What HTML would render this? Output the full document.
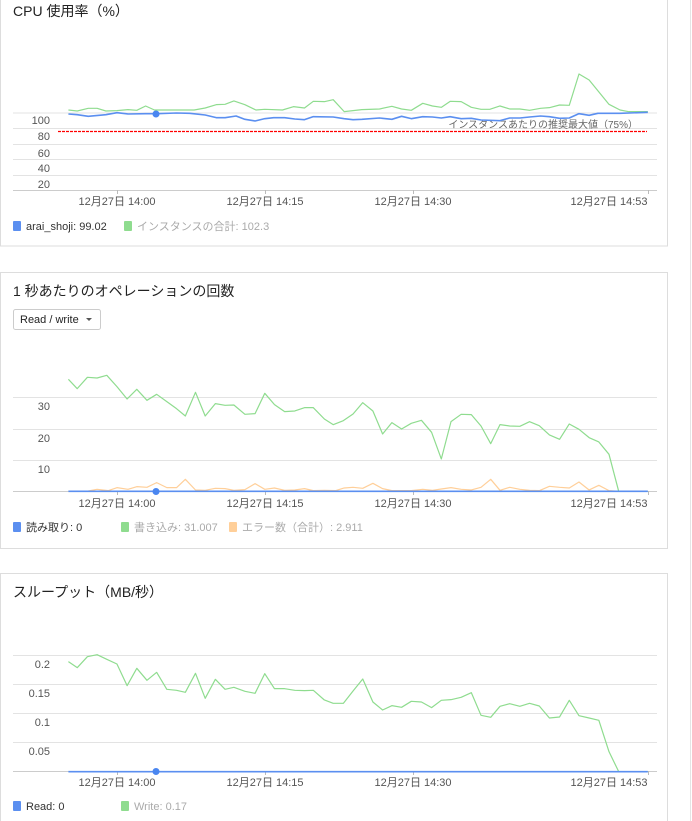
<!DOCTYPE html>
<html><head><meta charset="utf-8"><style>
html,body{margin:0;padding:0;background:#fff;width:692px;height:821px;overflow:hidden}
svg{display:block}
text{font-family:"Liberation Sans","Noto Sans CJK JP",sans-serif}
.l{vector-effect:non-scaling-stroke;fill:none;stroke-linejoin:round}
</style></head><body>
<svg width="692" height="821" viewBox="0 0 692 821" xmlns="http://www.w3.org/2000/svg">
<rect x="0" y="0" width="692" height="821" fill="#fff"/>
<line x1="690.5" y1="0" x2="690.5" y2="821" stroke="#e4e4e4"/>
<!-- cards -->
<rect x="0.5" y="-2" width="667" height="248" fill="#fff" stroke="#ddd"/>
<rect x="0.5" y="272.5" width="667" height="276" fill="#fff" stroke="#ddd"/>
<rect x="0.5" y="573.5" width="667" height="250" fill="#fff" stroke="#ddd"/>

<!-- CARD 1 -->
<text x="13" y="16" font-size="14" fill="#222">CPU 使用率（%）</text>
<g stroke="#e3e3e3">
<line x1="13" y1="113" x2="657" y2="113"/><line x1="13" y1="128.5" x2="657" y2="128.5"/>
<line x1="13" y1="144.5" x2="657" y2="144.5"/><line x1="13" y1="159.5" x2="657" y2="159.5"/>
<line x1="13" y1="175.5" x2="657" y2="175.5"/>
</g>
<line x1="13" y1="190.5" x2="657" y2="190.5" stroke="#ccc"/>
<g stroke="#bbb"><line x1="117.5" y1="190" x2="117.5" y2="194"/><line x1="265.5" y1="190" x2="265.5" y2="194"/><line x1="413.5" y1="190" x2="413.5" y2="194"/><line x1="648.5" y1="190" x2="648.5" y2="194"/></g>
<g font-size="11" fill="#555" text-anchor="end">
<text x="50" y="124">100</text><text x="50" y="140">80</text><text x="50" y="157">60</text><text x="50" y="172">40</text><text x="50" y="188">20</text>
</g>
<line x1="58" y1="131.5" x2="647" y2="131.5" stroke="#ff0000" stroke-dasharray="3,1" stroke-width="1.3"/>
<text x="638" y="128" font-size="10" fill="#666" text-anchor="end">インスタンスあたりの推奨最大値（75%）</text>
<g transform="scale(0.4413,0.3333)">
<polyline class="l" stroke="#8fdc8f" stroke-width="1.2" points="155,330 175,333 200,325 220,325 240,333 265,332 290,329 310,331 330,318 350,330 440,330 465,324 490,314 510,313 530,303 555,314 580,330 600,328 640,330 665,320 690,324 710,304 735,305 755,299 780,335 820,329 860,327 888,319 910,327 932,331 958,310 980,318 1000,322 1020,304 1045,305 1068,322 1090,328 1110,328 1133,318 1155,327 1178,327 1200,331 1225,325 1245,323 1268,315 1290,316 1312,222 1335,240 1380,313 1405,330 1425,335 1468,335"/>
<polyline class="l" stroke="#5b8ff0" stroke-width="1.6" points="155,342 175,344 200,349 240,344 265,338 290,342 330,341 355,341 400,339 430,340 465,345 490,353 510,353 535,348 555,358 578,363 600,356 620,353 645,353 668,357 690,359 710,350 755,351 780,356 800,359 820,358 860,354 888,358 910,349 932,356 958,350 980,351 1000,354 1020,350 1045,356 1068,355 1090,360 1133,362 1155,354 1178,354 1200,351 1225,348 1245,350 1268,355 1290,354 1312,341 1335,346 1355,340 1405,340 1468,337"/>
</g>
<circle cx="156" cy="114" r="3.5" fill="#4a86f0"/>
<g font-size="11" fill="#555" text-anchor="middle">
<text x="117" y="205">12月27日 14:00</text><text x="265" y="205">12月27日 14:15</text><text x="413" y="205">12月27日 14:30</text><text x="609" y="205">12月27日 14:53</text>
</g>
<rect x="13" y="221" width="8" height="10" rx="1" fill="#5b8ff0"/>
<text x="26" y="230" font-size="11" fill="#333">arai_shoji: 99.02</text>
<rect x="124" y="221" width="8" height="10" rx="1" fill="#8fdc8f"/>
<text x="137" y="230" font-size="11" fill="#aaa">インスタンスの合計: 102.3</text>

<!-- CARD 2 -->
<text x="13" y="296" font-size="14" fill="#222">1 秒あたりのオペレーションの回数</text>
<rect x="13.5" y="309.5" width="87" height="20" rx="2" fill="#fff" stroke="#ccc"/>
<text x="20" y="323" font-size="11" fill="#222">Read / write</text>
<polygon points="86,318 92,318 89,321" fill="#555"/>
<g stroke="#e3e3e3">
<line x1="13" y1="397.5" x2="657" y2="397.5"/><line x1="13" y1="429.5" x2="657" y2="429.5"/><line x1="13" y1="460.5" x2="657" y2="460.5"/>
</g>
<line x1="13" y1="491.5" x2="657" y2="491.5" stroke="#ccc"/>
<g stroke="#bbb"><line x1="117.5" y1="491" x2="117.5" y2="495"/><line x1="265.5" y1="491" x2="265.5" y2="495"/><line x1="413.5" y1="491" x2="413.5" y2="495"/><line x1="648.5" y1="491" x2="648.5" y2="495"/></g>
<g font-size="11" fill="#555" text-anchor="end">
<text x="50" y="410">30</text><text x="50" y="442">20</text><text x="50" y="473">10</text>
</g>
<g transform="translate(0,270) scale(0.4413,0.3333)">
<polyline class="l" stroke="#ffcf99" stroke-width="1.2" points="155,664 200,663 220,658 245,662 265,653 290,658 310,650 333,652 355,638 378,653 400,653 420,628 443,660 465,661 488,655 510,656 530,661 555,659 578,641 600,658 622,654 645,661 668,660 690,656 710,662 735,661 760,662 780,654 800,652 822,655 845,640 867,656 888,662 932,662 958,658 980,661 1000,657 1022,653 1045,658 1068,660 1090,652 1112,628 1133,661 1155,652 1178,658 1200,661 1222,662 1245,649 1268,652 1290,654 1312,636 1335,660 1357,646 1380,662 1402,664"/>
<polyline class="l" stroke="#8fdc8f" stroke-width="1.2" points="155,328 175,356 198,322 220,324 242,316 265,350 288,387 310,358 333,391 355,373 378,395 400,416 420,438 443,367 465,438 488,401 510,406 530,405 555,433 578,431 600,370 622,404 645,425 668,423 690,413 710,413 735,447 755,464 778,452 800,432 822,398 845,423 867,492 888,458 910,477 932,460 955,451 978,487 1000,567 1022,455 1045,433 1068,434 1090,468 1112,521 1133,464 1155,468 1178,469 1200,455 1222,467 1245,495 1268,508 1290,462 1312,478 1335,503 1357,516 1380,553 1402,664 1468,664"/>
<polyline class="l" stroke="#5b8ff0" stroke-width="1.6" points="155,664 1468,664"/>
</g>
<circle cx="156" cy="491.5" r="3.5" fill="#4a86f0"/>
<g font-size="11" fill="#555" text-anchor="middle">
<text x="117" y="507">12月27日 14:00</text><text x="265" y="507">12月27日 14:15</text><text x="413" y="507">12月27日 14:30</text><text x="609" y="507">12月27日 14:53</text>
</g>
<rect x="13" y="522" width="8" height="10" rx="1" fill="#5b8ff0"/>
<text x="26" y="531" font-size="11" fill="#333">読み取り: 0</text>
<rect x="121" y="522" width="8" height="10" rx="1" fill="#8fdc8f"/>
<text x="134" y="531" font-size="11" fill="#aaa">書き込み: 31.007</text>
<rect x="229" y="522" width="8" height="10" rx="1" fill="#ffcf99"/>
<text x="242" y="531" font-size="11" fill="#aaa">エラー数（合計）: 2.911</text>

<!-- CARD 3 -->
<text x="13" y="597" font-size="14" fill="#222">スループット（MB/秒）</text>
<g stroke="#e3e3e3">
<line x1="13" y1="655.5" x2="657" y2="655.5"/><line x1="13" y1="684.5" x2="657" y2="684.5"/>
<line x1="13" y1="713.5" x2="657" y2="713.5"/><line x1="13" y1="742.5" x2="657" y2="742.5"/>
</g>
<line x1="13" y1="771.5" x2="657" y2="771.5" stroke="#ccc"/>
<g stroke="#bbb"><line x1="117.5" y1="771" x2="117.5" y2="775"/><line x1="265.5" y1="771" x2="265.5" y2="775"/><line x1="413.5" y1="771" x2="413.5" y2="775"/><line x1="648.5" y1="771" x2="648.5" y2="775"/></g>
<g font-size="11" fill="#555" text-anchor="end">
<text x="50" y="668">0.2</text><text x="50" y="697">0.15</text><text x="50" y="726">0.1</text><text x="50" y="755">0.05</text>
</g>
<g transform="translate(0,570) scale(0.4413,0.3333)">
<polyline class="l" stroke="#8fdc8f" stroke-width="1.2" points="155,275 175,293 198,260 220,254 242,268 265,282 288,347 310,295 333,331 355,307 378,358 400,361 420,367 443,310 465,385 488,328 510,358 530,352 555,364 578,370 600,311 622,356 645,356 668,361 690,362 710,361 735,390 755,400 778,400 800,363 822,327 845,396 867,420 888,407 910,412 932,394 955,396 978,413 1000,391 1022,389 1045,382 1068,368 1090,436 1112,442 1133,409 1155,401 1178,409 1200,400 1222,408 1245,444 1268,441 1290,391 1312,437 1335,444 1357,451 1380,545 1402,605 1468,605"/>
<polyline class="l" stroke="#5b8ff0" stroke-width="1.6" points="155,605 1468,605"/>
</g>
<circle cx="156" cy="771.5" r="3.5" fill="#4a86f0"/>
<g font-size="11" fill="#555" text-anchor="middle">
<text x="117" y="786">12月27日 14:00</text><text x="265" y="786">12月27日 14:15</text><text x="413" y="786">12月27日 14:30</text><text x="609" y="786">12月27日 14:53</text>
</g>
<rect x="13" y="801" width="8" height="10" rx="1" fill="#5b8ff0"/>
<text x="26" y="810" font-size="11" fill="#333">Read: 0</text>
<rect x="121" y="801" width="8" height="10" rx="1" fill="#8fdc8f"/>
<text x="134" y="810" font-size="11" fill="#aaa">Write: 0.17</text>
</svg>
</body></html>
